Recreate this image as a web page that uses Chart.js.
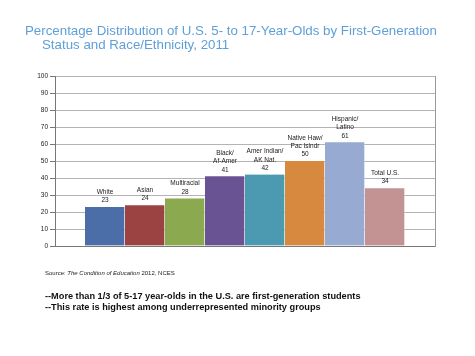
<!DOCTYPE html>
<html>
<head>
<meta charset="utf-8">
<script src="https://cdn.jsdelivr.net/npm/chart.js@4.4.1/dist/chart.umd.min.js"></script>
<style>
  html, body { margin:0; padding:0; background:#fff; }
  #wrap { position:absolute; left:0; top:0; width:475px; height:356px; }
  .t { position:absolute; white-space:nowrap; font-family:"Liberation Sans", Arial, sans-serif; }
  .title { color:#5f9fd8; font-size:13.3px; line-height:14.5px; }
  .src { font-size:6px; color:#222; }
  .note { font-size:9.2px; font-weight:bold; color:#111; line-height:10.5px; }
</style>
</head>
<body>
<div id="wrap"><canvas id="c" width="475" height="356"></canvas></div>
<div class="t title" style="left:25px; top:23.8px;">Percentage Distribution of U.S. 5- to 17-Year-Olds by First-Generation</div>
<div class="t title" style="left:42px; top:38.2px;">Status and Race/Ethnicity, 2011</div>
<div class="t src" style="left:45px; top:269.5px;">Source: <i>The Condition of Education</i> 2012, NCES</div>
<div class="t note" style="left:45px; top:291px;">--More than 1/3 of 5-17 year-olds in the U.S. are first-generation students<br>--This rate is highest among underrepresented minority groups</div>
<script>
const categories = [["White"],["Asian"],["Multiracial"],["Black/","Af-Amer"],["Amer Indian/","AK Nat."],["Native Haw/","Pac Islndr"],["Hispanic/","Latino"],["Total U.S."]];
const values = [23, 24, 28, 41, 42, 50, 61, 34];
const barColors = ["#4b6ea8","#9b4343","#8ba94f","#6a5393","#4c9ab1","#d7893f","#97aad2","#c39393"];
const yTicks = [0,10,20,30,40,50,60,70,80,90,100];

const points = values.map((v, i) => ({x: i, y: v}));

const labelPlugin = {
  id: 'barLabels',
  afterDatasetsDraw(chart) {
    const ctx = chart.ctx;
    const meta = chart.getDatasetMeta(0);
    ctx.save();
    ctx.font = '6.5px "Liberation Sans", Arial, sans-serif';
    ctx.fillStyle = '#222';
    ctx.textAlign = 'center';
    ctx.textBaseline = 'middle';
    meta.data.forEach((bar, i) => {
      const lines = categories[i].concat([String(values[i])]);
      const lh = 8.2;
      for (let k = 0; k < lines.length; k++) {
        const y = bar.y - 6.5 - (lines.length - 1 - k) * lh;
        ctx.fillText(lines[k], bar.x, y);
      }
    });
    ctx.restore();
  }
};

new Chart(document.getElementById('c'), {
  type: 'bar',
  data: {
    datasets: [{
      data: points,
      backgroundColor: barColors,
      borderColor: 'rgba(255,255,255,0.35)',
      borderWidth: {left:0, right:1, top:0, bottom:0},
      barPercentage: 1,
      categoryPercentage: 1
    }]
  },
  options: {
    responsive: false,
    animation: false,
    events: [],
    layout: { padding: { left: 0, top: 76, right: 40, bottom: 110 } },
    plugins: { legend: { display: false }, tooltip: { enabled: false } },
    scales: {
      x: {
        type: 'linear',
        min: -1.25,
        max: 8.25,
        offset: false,
        ticks: { display: false },
        grid: { display: false, drawTicks: false },
        border: { display: true, color: '#777', width: 1 },
        afterFit(s) { s.height = 0; }
      },
      y: {
        min: 0,
        max: 100,
        afterBuildTicks(s) { s.ticks = yTicks.map(v => ({value: v})); },
        ticks: {
          font: { size: 6.5, family: '"Liberation Sans", Arial, sans-serif' },
          color: '#222',
          padding: 2
        },
        grid: { color: '#b4b4b4', lineWidth: 1, tickLength: 5, tickColor: '#777' },
        border: { display: true, color: '#777', width: 1 },
        afterFit(s) { s.width = 55; }
      },
      y2: {
        position: 'right',
        min: 0,
        max: 100,
        ticks: { display: false },
        grid: { display: false, drawTicks: false },
        border: { display: true, color: '#999', width: 1 },
        afterFit(s) { s.width = 0; }
      }
    }
  },
  plugins: [labelPlugin]
});
</script>
</body>
</html>
